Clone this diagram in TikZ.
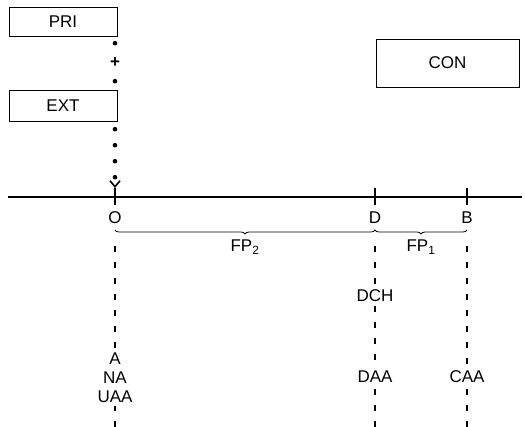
\documentclass[tikz,border=0pt]{standalone}
\usepackage{fontspec}
\setmainfont{Liberation Sans}
\usetikzlibrary{arrows.meta, decorations.pathreplacing, positioning}

\tikzset{
  dotcol/.style={line width=4.6pt, line cap=round, dash pattern=on 0pt off 19pt},
  guide/.style={line width=1.1pt, dash pattern=on 6pt off 10pt},
  brace/.style={line width=0.8pt, decorate, decoration={brace, mirror, amplitude=4pt}},
  tickmark/.style={line width=1.5pt}
}

\begin{document}
\begin{tikzpicture}[x=1pt, y=-1pt, font=\fontsize{17}{19}\selectfont]
        \useasboundingbox (0,0) rectangle (525,427);
        \begin{scope}[every node/.style={draw, thin, inner sep=0pt, minimum width=108pt, minimum height=29pt}]
          \node (pri) at (63,21.5) {PRI};
          \node[minimum height=31pt] (ext) at (63,105.5) {EXT};
          \node[minimum width=143pt, minimum height=48pt] (con) at (447.5,63) {CON};
        \end{scope}
        % axis
        \coordinate (left) at (8,197);
        \coordinate (right) at (522,197);
        \coordinate (o) at (115,197);
        \coordinate (d) at (375,197);
        \coordinate (b) at (467,197);
        \draw[line width=1.6pt] (left) -- (right);
        \foreach \p in {o,d,b}
          \draw[tickmark] ([yshift=9pt]\p) -- ([yshift=-8pt]\p);
        \node (lo) at (115,218) {O};
        \node (ld) at (375,218) {D};
        \node (lb) at (467,218) {B};
        % dotted column
        \draw[dotcol, dash phase=12pt] (pri.south -| o) -- node[fill=white, inner sep=0.5pt, font=\fontsize{17}{19}\bfseries] {+} (ext.north -| o);
        \draw[dotcol, dash pattern=on 0pt off 16pt, dash phase=8pt,
              -{Straight Barb[length=6pt, width=10pt, line width=1.6pt]}]
          (ext.south -| o) -- ([yshift=9pt]o);
        % braces
        \draw[brace] (115,230) -- node[below=6pt] {FP\textsubscript{2}} (375,230);
        \draw[brace] (375,230) -- node[below=6pt] {FP\textsubscript{1}} (467,230);
        % lower labels
        \node[align=center] (stack) at (115,378) {A\\NA\\UAA};
        \node (dch) at (375,296) {DCH};
        \node (daa) at (375,377) {DAA};
        \node (caa) at (467,377) {CAA};
        \coordinate (otop) at (115,246);
        \coordinate (dtop) at (375,246);
        \coordinate (btop) at (467,246);
        \coordinate (obot) at (115,427);
        \coordinate (dbot) at (375,427);
        \coordinate (bbot) at (467,427);
        \begin{scope}[every edge/.style={draw, guide}]
          \path (otop) edge (stack.north);
          \path (obot) edge (stack.south);
          \path (dtop) edge (dch.north);
          \path (dch.south) edge (daa.north);
          \path (dbot) edge (daa.south);
          \path (btop) edge (caa.north);
          \path (bbot) edge (caa.south);
        \end{scope}
\end{tikzpicture}
\end{document}
